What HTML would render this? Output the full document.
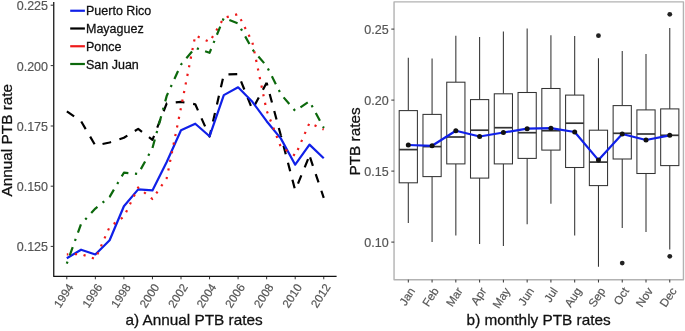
<!DOCTYPE html>
<html><head><meta charset="utf-8"><title>PTB rates</title>
<style>
html,body{margin:0;padding:0;background:#fff;}
body{width:685px;height:331px;overflow:hidden;}
svg{display:block;will-change:transform;}
text{font-family:"Liberation Sans",sans-serif;}
.d{stroke:#111;stroke-width:.28px;}
.g{stroke:#555;stroke-width:.18px;}
</style></head><body>
<svg width="685" height="331" viewBox="0 0 685 331">
<rect width="685" height="331" fill="#fff"/>
<g id="left">
<path d="M53.75 2 V276.4 H336.6" fill="none" stroke="#111" stroke-width="1.25" stroke-linejoin="round"/>
<path d="M50.7 5.2 H53.3" stroke="#333" stroke-width="1"/>
<text x="48" y="10.2" font-size="12.5" fill="#555" class="g" text-anchor="end">0.225</text>
<path d="M50.7 65.6 H53.3" stroke="#333" stroke-width="1"/>
<text x="48" y="70.6" font-size="12.5" fill="#555" class="g" text-anchor="end">0.200</text>
<path d="M50.7 126.0 H53.3" stroke="#333" stroke-width="1"/>
<text x="48" y="131.0" font-size="12.5" fill="#555" class="g" text-anchor="end">0.175</text>
<path d="M50.7 186.2 H53.3" stroke="#333" stroke-width="1"/>
<text x="48" y="191.2" font-size="12.5" fill="#555" class="g" text-anchor="end">0.150</text>
<path d="M50.7 246.4 H53.3" stroke="#333" stroke-width="1"/>
<text x="48" y="251.4" font-size="12.5" fill="#555" class="g" text-anchor="end">0.125</text>
<path d="M66.80 277 V279.3" stroke="#333" stroke-width="1"/>
<text transform="translate(74.10 287.0) rotate(-57)" font-size="11.6" fill="#555" class="g" text-anchor="end">1994</text>
<path d="M95.35 277 V279.3" stroke="#333" stroke-width="1"/>
<text transform="translate(102.65 287.0) rotate(-57)" font-size="11.6" fill="#555" class="g" text-anchor="end">1996</text>
<path d="M123.90 277 V279.3" stroke="#333" stroke-width="1"/>
<text transform="translate(131.20 287.0) rotate(-57)" font-size="11.6" fill="#555" class="g" text-anchor="end">1998</text>
<path d="M152.45 277 V279.3" stroke="#333" stroke-width="1"/>
<text transform="translate(159.75 287.0) rotate(-57)" font-size="11.6" fill="#555" class="g" text-anchor="end">2000</text>
<path d="M181.00 277 V279.3" stroke="#333" stroke-width="1"/>
<text transform="translate(188.30 287.0) rotate(-57)" font-size="11.6" fill="#555" class="g" text-anchor="end">2002</text>
<path d="M209.55 277 V279.3" stroke="#333" stroke-width="1"/>
<text transform="translate(216.85 287.0) rotate(-57)" font-size="11.6" fill="#555" class="g" text-anchor="end">2004</text>
<path d="M238.10 277 V279.3" stroke="#333" stroke-width="1"/>
<text transform="translate(245.40 287.0) rotate(-57)" font-size="11.6" fill="#555" class="g" text-anchor="end">2006</text>
<path d="M266.65 277 V279.3" stroke="#333" stroke-width="1"/>
<text transform="translate(273.95 287.0) rotate(-57)" font-size="11.6" fill="#555" class="g" text-anchor="end">2008</text>
<path d="M295.20 277 V279.3" stroke="#333" stroke-width="1"/>
<text transform="translate(302.50 287.0) rotate(-57)" font-size="11.6" fill="#555" class="g" text-anchor="end">2010</text>
<path d="M323.75 277 V279.3" stroke="#333" stroke-width="1"/>
<text transform="translate(331.05 287.0) rotate(-57)" font-size="11.6" fill="#555" class="g" text-anchor="end">2012</text>
<path d="M66.80 111.40 L81.08 121.20 L95.35 145.50 L109.62 142.50 L123.90 137.80 L138.18 128.90 L152.45 139.90 L166.72 103.30 L181.00 101.90 L195.27 104.30 L209.55 136.50 L223.82 74.70 L238.10 74.00 L252.38 109.50 L266.65 82.70" fill="none" stroke="#000" stroke-width="2.2" stroke-linejoin="round" stroke-dasharray="8.79 8.79" stroke-dashoffset="17.50"/>
<path d="M266.65 82.70 L280.93 135.80" fill="none" stroke="#000" stroke-width="2.2" stroke-linejoin="round" stroke-dasharray="8.79 8.79" stroke-dashoffset="5.91"/>
<path d="M280.93 135.80 L295.20 190.40" fill="none" stroke="#000" stroke-width="2.2" stroke-linejoin="round" stroke-dasharray="8.79 8.79" stroke-dashoffset="7.29"/>
<path d="M295.20 190.40 L309.48 155.70" fill="none" stroke="#000" stroke-width="2.2" stroke-linejoin="round" stroke-dasharray="8.79 8.79" stroke-dashoffset="10.21"/>
<path d="M309.48 155.70 L323.75 197.80" fill="none" stroke="#000" stroke-width="2.2" stroke-linejoin="round" stroke-dasharray="8.79 8.79" stroke-dashoffset="15.71"/>
<path d="M66.80 258.20 L81.08 249.70 L95.35 254.50 L109.62 240.20 L123.90 206.20 L138.18 189.40 L152.45 190.40 L166.72 162.00 L181.00 130.20 L195.27 123.70 L209.55 136.30 L223.82 95.10 L238.10 87.30 L252.38 101.80 L266.65 121.20 L280.93 138.60 L295.20 164.70 L309.48 144.60 L323.75 158.20" fill="none" stroke="#1020e8" stroke-width="2.2" stroke-linejoin="round"/>
<path d="M66.80 254.40 L81.08 254.10 L95.35 259.00 L109.62 226.90 L123.90 216.70 L138.18 187.50 L152.45 199.00 L166.72 178.20 L181.00 107.70 L195.27 35.50 L209.55 41.90 L223.82 17.90 L238.10 14.10 L252.38 42.20 L266.65 110.60 L280.93 147.20 L295.20 155.70 L309.48 122.90 L323.75 129.50" fill="none" stroke="#ee1a1a" stroke-width="2.2" stroke-linejoin="round" stroke-dasharray="2.19 6.58" stroke-dashoffset="0.67"/>
<path d="M66.80 263.60 L81.08 224.00 L95.35 208.60 L109.62 196.90 L123.90 172.70 L138.18 174.00 L152.45 148.10 L166.72 95.90 L181.00 64.60 L195.27 47.80 L209.55 52.80 L223.82 17.90 L238.10 23.40 L252.38 49.50 L266.65 66.00 L280.93 94.20 L295.20 110.90 L309.48 101.30 L323.75 127.90" fill="none" stroke="#0c680c" stroke-width="2.2" stroke-linejoin="round" stroke-dasharray="2.20 6.59 8.79 6.59" stroke-dashoffset="0.12"/>
<path d="M70.2 10.75 H84.9" stroke="#1020e8" stroke-width="2.2"/>
<text x="86.0" y="15.2" font-size="12.5" fill="#111" class="d">Puerto Rico</text>
<path d="M70.2 28.50 H84.9" stroke="#000" stroke-width="2.2"/>
<text x="86.0" y="33.0" font-size="12.5" fill="#111" class="d">Mayaguez</text>
<path d="M70.2 46.25 H84.9" stroke="#ee1a1a" stroke-width="2.2"/>
<text x="86.0" y="50.7" font-size="12.5" fill="#111" class="d">Ponce</text>
<path d="M70.2 64.00 H84.9" stroke="#0c680c" stroke-width="2.2"/>
<text x="86.0" y="68.5" font-size="12.5" fill="#111" class="d">San Juan</text>
<text transform="translate(12.3 140.2) rotate(-90)" font-size="15.35" fill="#111" class="d" text-anchor="middle">Annual PTB rate</text>
<text x="125.4" y="325.3" font-size="15.35" fill="#111" class="d">a) Annual PTB rates</text>
</g>
<g id="right">
<rect x="394.05" y="1.85" width="289.4" height="277.9" fill="#fff" stroke="#b2b2b2" stroke-width="1.4" stroke-linejoin="round"/>
<path d="M391.3 29.1 H394.2" stroke="#333" stroke-width="1"/>
<text x="388.7" y="33.6" font-size="12.5" fill="#555" class="g" text-anchor="end">0.25</text>
<path d="M391.3 100.1 H394.2" stroke="#333" stroke-width="1"/>
<text x="388.7" y="104.5" font-size="12.5" fill="#555" class="g" text-anchor="end">0.20</text>
<path d="M391.3 171.1 H394.2" stroke="#333" stroke-width="1"/>
<text x="388.7" y="175.6" font-size="12.5" fill="#555" class="g" text-anchor="end">0.15</text>
<path d="M391.3 242.1 H394.2" stroke="#333" stroke-width="1"/>
<text x="388.7" y="246.5" font-size="12.5" fill="#555" class="g" text-anchor="end">0.10</text>
<path d="M408.30 57.8 V110.6 M408.30 182.8 V223.0" stroke="#333" stroke-width="1.05"/>
<rect x="399.20" y="110.6" width="18.2" height="72.2" fill="#fff" stroke="#333" stroke-width="1.05"/>
<path d="M399.20 149.6 H417.40" stroke="#333" stroke-width="1.7"/>
<path d="M408.30 279.7 V282.5" stroke="#333" stroke-width="1"/>
<text transform="translate(415.60 290.8) rotate(-57)" font-size="11.6" fill="#555" class="g" text-anchor="end">Jan</text>
<path d="M432.07 58.5 V114.4 M432.07 176.6 V241.9" stroke="#333" stroke-width="1.05"/>
<rect x="422.97" y="114.4" width="18.2" height="62.2" fill="#fff" stroke="#333" stroke-width="1.05"/>
<path d="M422.97 146.6 H441.17" stroke="#333" stroke-width="1.7"/>
<path d="M432.07 279.7 V282.5" stroke="#333" stroke-width="1"/>
<text transform="translate(439.37 290.8) rotate(-57)" font-size="11.6" fill="#555" class="g" text-anchor="end">Feb</text>
<path d="M455.84 35.7 V82.2 M455.84 163.9 V235.6" stroke="#333" stroke-width="1.05"/>
<rect x="446.74" y="82.2" width="18.2" height="81.7" fill="#fff" stroke="#333" stroke-width="1.05"/>
<path d="M446.74 137.0 H464.94" stroke="#333" stroke-width="1.7"/>
<path d="M455.84 279.7 V282.5" stroke="#333" stroke-width="1"/>
<text transform="translate(463.14 290.8) rotate(-57)" font-size="11.6" fill="#555" class="g" text-anchor="end">Mar</text>
<path d="M479.61 36.9 V99.6 M479.61 178.1 V243.9" stroke="#333" stroke-width="1.05"/>
<rect x="470.51" y="99.6" width="18.2" height="78.5" fill="#fff" stroke="#333" stroke-width="1.05"/>
<path d="M470.51 130.2 H488.71" stroke="#333" stroke-width="1.7"/>
<path d="M479.61 279.7 V282.5" stroke="#333" stroke-width="1"/>
<text transform="translate(486.91 290.8) rotate(-57)" font-size="11.6" fill="#555" class="g" text-anchor="end">Apr</text>
<path d="M503.38 31.4 V93.8 M503.38 163.9 V245.9" stroke="#333" stroke-width="1.05"/>
<rect x="494.28" y="93.8" width="18.2" height="70.1" fill="#fff" stroke="#333" stroke-width="1.05"/>
<path d="M494.28 127.7 H512.48" stroke="#333" stroke-width="1.7"/>
<path d="M503.38 279.7 V282.5" stroke="#333" stroke-width="1"/>
<text transform="translate(510.68 290.8) rotate(-57)" font-size="11.6" fill="#555" class="g" text-anchor="end">May</text>
<path d="M527.15 28.4 V92.5 M527.15 158.4 V224.3" stroke="#333" stroke-width="1.05"/>
<rect x="518.05" y="92.5" width="18.2" height="65.9" fill="#fff" stroke="#333" stroke-width="1.05"/>
<path d="M518.05 132.7 H536.25" stroke="#333" stroke-width="1.7"/>
<path d="M527.15 279.7 V282.5" stroke="#333" stroke-width="1"/>
<text transform="translate(534.45 290.8) rotate(-57)" font-size="11.6" fill="#555" class="g" text-anchor="end">Jun</text>
<path d="M550.92 35.2 V88.5 M550.92 150.1 V203.7" stroke="#333" stroke-width="1.05"/>
<rect x="541.82" y="88.5" width="18.2" height="61.6" fill="#fff" stroke="#333" stroke-width="1.05"/>
<path d="M541.82 130.7 H560.02" stroke="#333" stroke-width="1.7"/>
<path d="M550.92 279.7 V282.5" stroke="#333" stroke-width="1"/>
<text transform="translate(558.22 290.8) rotate(-57)" font-size="11.6" fill="#555" class="g" text-anchor="end">Jul</text>
<path d="M574.69 35.9 V95.1 M574.69 167.5 V235.6" stroke="#333" stroke-width="1.05"/>
<rect x="565.59" y="95.1" width="18.2" height="72.4" fill="#fff" stroke="#333" stroke-width="1.05"/>
<path d="M565.59 123.2 H583.79" stroke="#333" stroke-width="1.7"/>
<path d="M574.69 279.7 V282.5" stroke="#333" stroke-width="1"/>
<text transform="translate(581.99 290.8) rotate(-57)" font-size="11.6" fill="#555" class="g" text-anchor="end">Aug</text>
<path d="M598.46 58.3 V130.2 M598.46 185.6 V266.8" stroke="#333" stroke-width="1.05"/>
<rect x="589.36" y="130.2" width="18.2" height="55.4" fill="#fff" stroke="#333" stroke-width="1.05"/>
<path d="M589.36 162.1 H607.56" stroke="#333" stroke-width="1.7"/>
<path d="M598.46 279.7 V282.5" stroke="#333" stroke-width="1"/>
<text transform="translate(605.76 290.8) rotate(-57)" font-size="11.6" fill="#555" class="g" text-anchor="end">Sep</text>
<path d="M622.23 51.0 V105.6 M622.23 159.0 V228.1" stroke="#333" stroke-width="1.05"/>
<rect x="613.13" y="105.6" width="18.2" height="53.4" fill="#fff" stroke="#333" stroke-width="1.05"/>
<path d="M613.13 133.3 H631.33" stroke="#333" stroke-width="1.7"/>
<path d="M622.23 279.7 V282.5" stroke="#333" stroke-width="1"/>
<text transform="translate(629.53 290.8) rotate(-57)" font-size="11.6" fill="#555" class="g" text-anchor="end">Oct</text>
<path d="M646.00 54.0 V109.9 M646.00 173.5 V232.1" stroke="#333" stroke-width="1.05"/>
<rect x="636.90" y="109.9" width="18.2" height="63.6" fill="#fff" stroke="#333" stroke-width="1.05"/>
<path d="M636.90 134.0 H655.10" stroke="#333" stroke-width="1.7"/>
<path d="M646.00 279.7 V282.5" stroke="#333" stroke-width="1"/>
<text transform="translate(653.30 290.8) rotate(-57)" font-size="11.6" fill="#555" class="g" text-anchor="end">Nov</text>
<path d="M669.77 28.1 V108.9 M669.77 165.6 V249.5" stroke="#333" stroke-width="1.05"/>
<rect x="660.67" y="108.9" width="18.2" height="56.7" fill="#fff" stroke="#333" stroke-width="1.05"/>
<path d="M660.67 135.3 H678.87" stroke="#333" stroke-width="1.7"/>
<path d="M669.77 279.7 V282.5" stroke="#333" stroke-width="1"/>
<text transform="translate(677.07 290.8) rotate(-57)" font-size="11.6" fill="#555" class="g" text-anchor="end">Dec</text>
<circle cx="598.46" cy="35.7" r="2.4" fill="#222"/>
<circle cx="669.77" cy="14.3" r="2.4" fill="#222"/>
<circle cx="622.23" cy="263.1" r="2.4" fill="#222"/>
<circle cx="669.77" cy="256.3" r="2.4" fill="#222"/>
<path d="M408.30 145.0 L432.07 145.8 L455.84 130.7 L479.61 136.5 L503.38 132.5 L527.15 128.7 L550.92 128.2 L574.69 132.0 L598.46 160.1 L622.23 134.0 L646.00 140.0 L669.77 135.3" fill="none" stroke="#1020e8" stroke-width="2.2" stroke-linejoin="round"/>
<circle cx="408.30" cy="145.0" r="2.5" fill="#111"/>
<circle cx="432.07" cy="145.8" r="2.5" fill="#111"/>
<circle cx="455.84" cy="130.7" r="2.5" fill="#111"/>
<circle cx="479.61" cy="136.5" r="2.5" fill="#111"/>
<circle cx="503.38" cy="132.5" r="2.5" fill="#111"/>
<circle cx="527.15" cy="128.7" r="2.5" fill="#111"/>
<circle cx="550.92" cy="128.2" r="2.5" fill="#111"/>
<circle cx="574.69" cy="132.0" r="2.5" fill="#111"/>
<circle cx="598.46" cy="160.1" r="2.5" fill="#111"/>
<circle cx="622.23" cy="134.0" r="2.5" fill="#111"/>
<circle cx="646.00" cy="140.0" r="2.5" fill="#111"/>
<circle cx="669.77" cy="135.3" r="2.5" fill="#111"/>
<text transform="translate(359.6 141.4) rotate(-90)" font-size="15.35" fill="#111" class="d" text-anchor="middle">PTB rates</text>
<text x="466.6" y="325.3" font-size="15.35" fill="#111" class="d">b) monthly PTB rates</text>
</g>
</svg>
</body></html>
